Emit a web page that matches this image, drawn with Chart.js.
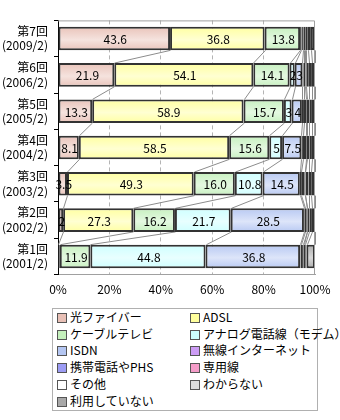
<!DOCTYPE html>
<html>
<head>
<meta charset="utf-8">
<script src="https://cdn.jsdelivr.net/npm/chart.js@4"></script>
<style>
  body { margin: 0; background: #fff; font-family: "Noto Sans CJK JP", sans-serif; }
  #wrap { position: relative; width: 340px; height: 420px; }
  #chart { position: absolute; left: 0; top: 0; }
  #legend {
    position: absolute; left: 52px; top: 308px; width: 264px; height: 101px;
    border: 1px solid #b0b0b0; box-sizing: content-box;
  }
  .item { position: absolute; font-size: 12px; line-height: 14px; color: #000; white-space: nowrap; }
  .item span.box {
    display: inline-block; width: 8px; height: 8px; border: 1px solid #555;
    margin-right: 3px; vertical-align: -1px;
  }
</style>
</head>
<body>
<div id="wrap">
  <canvas id="chart" width="340" height="305"></canvas>
  <div id="legend"></div>
</div>
<script>
// categories, top to bottom
var categories = [
    ['第7回', '(2009/2)'],
    ['第6回', '(2006/2)'],
    ['第5回', '(2005/2)'],
    ['第4回', '(2004/2)'],
    ['第3回', '(2003/2)'],
    ['第2回', '(2002/2)'],
    ['第1回', '(2001/2)']
];

var seriesNames = ['光ファイバー', 'ADSL', 'ケーブルテレビ', 'アナログ電話線（モデム）', 'ISDN',
    '無線インターネット', '携帯電話やPHS', '専用線', 'その他', 'わからない', '利用していない'];

// values (%)
var hikari   = [43.6, 21.9, 13.3, 8.1, 3.5, 2, 0.1];
var adsl     = [36.8, 54.1, 58.9, 58.5, 49.3, 27.3, 0.6];
var catv     = [13.8, 14.1, 15.7, 15.6, 16.0, 16.2, 11.9];
var analog   = [0.5, 2, 3, 5, 10.8, 21.7, 44.8];
var isdn     = [0.6, 3, 4, 7.5, 14.5, 28.5, 36.8];
var wireless = [0.3, 0.5, 0.8, 0.6, 0.5, 0.3, 0.2];
var mobile   = [0.5, 0.7, 0.8, 1.2, 1.4, 0.8, 0.9];
var senyo    = [0.3, 0.3, 0.3, 0.3, 0.3, 0.2, 0.3];
var other    = [0.8, 1.0, 1.0, 1.0, 1.2, 0.8, 0.6];
var unknown  = [1.2, 1.2, 1.0, 1.0, 1.0, 1.0, 0.5];
var notUsing = [1.6, 1.2, 1.2, 1.2, 1.5, 1.2, 3.3];

var xTicks = [0, 20, 40, 60, 80, 100];

var seriesValues = [hikari, adsl, catv, analog, isdn, wireless, mobile, senyo, other, unknown, notUsing];
var seriesColors = ['#e8c0b6', '#ffff9c', '#c4f0bc', '#ccffff', '#b4c6f2',
    '#cc9cf4', '#9c9cf4', '#f49cc8', '#ffffff', '#dcdcdc', '#a8a8a8'];
var labelledSeries = 5; // only the first five series carry value labels

var FONT = '"Noto Sans CJK JP", sans-serif';

function lighten(hex, f) {
    var r = parseInt(hex.substr(1, 2), 16), g = parseInt(hex.substr(3, 2), 16), b = parseInt(hex.substr(5, 2), 16);
    r = Math.round(r + (255 - r) * f); g = Math.round(g + (255 - g) * f); b = Math.round(b + (255 - b) * f);
    return 'rgb(' + r + ',' + g + ',' + b + ')';
}

function gradientFor(color) {
    return function (ctx) {
        var chart = ctx.chart;
        if (!chart.chartArea || !chart.scales.y || ctx.dataIndex === undefined) { return color; }
        var y = chart.scales.y.getPixelForValue(ctx.dataIndex);
        var g = chart.ctx.createLinearGradient(0, y - 13, 0, y + 13);
        g.addColorStop(0, color);
        g.addColorStop(0.55, lighten(color, 0.55));
        g.addColorStop(1, color);
        return g;
    };
}

// connecting lines between bars (Excel series lines)
var seriesLines = {
    id: 'seriesLines',
    beforeDatasetsDraw: function (chart) {
        var c = chart.ctx;
        c.save();
        c.strokeStyle = '#8c8c8c';
        c.lineWidth = 1;
        chart.data.datasets.forEach(function (ds, i) {
            var els = chart.getDatasetMeta(i).data;
            for (var j = 0; j < els.length - 1; j++) {
                var a = els[j], b = els[j + 1];
                c.beginPath();
                c.moveTo(Math.round(a.x) + 0.5, a.y + a.height / 2);
                c.lineTo(Math.round(b.x) + 0.5, b.y - b.height / 2);
                c.stroke();
            }
        });
        c.restore();
    }
};

// value labels in segments
var valueLabels = {
    id: 'valueLabels',
    afterDatasetsDraw: function (chart) {
        var c = chart.ctx;
        c.save();
        c.font = '12px ' + FONT;
        c.fillStyle = '#000';
        c.textAlign = 'center';
        c.textBaseline = 'middle';
        chart.data.datasets.forEach(function (ds, i) {
            if (i >= labelledSeries) { return; }
            chart.getDatasetMeta(i).data.forEach(function (el, j) {
                var v = ds.data[j];
                if (v < 2) { return; }
                var txt = (Number.isInteger(v) && v < 10) ? String(v) : v.toFixed(1);
                c.fillText(txt, (el.x + el.base) / 2 + 1, el.y + 1);
            });
        });
        c.restore();
    }
};

var plotBorder = {
    id: 'plotBorder',
    afterDraw: function (chart) {
        var a = chart.chartArea, c = chart.ctx;
        c.save();
        c.strokeStyle = '#a0a0a0';
        c.lineWidth = 1;
        c.beginPath();
        c.moveTo(a.left, a.top + 0.5);
        c.lineTo(a.right - 0.5, a.top + 0.5);
        c.lineTo(a.right - 0.5, a.bottom);
        c.stroke();
        c.restore();
    }
};

var datasets = seriesNames.map(function (name, i) {
    return {
        label: name,
        data: seriesValues[i],
        backgroundColor: gradientFor(seriesColors[i]),
        borderColor: '#333333',
        borderWidth: 2,
        borderSkipped: false,
        categoryPercentage: 1,
        barPercentage: 0.65
    };
});

var chart = new Chart(document.getElementById('chart'), {
    type: 'bar',
    data: { labels: categories, datasets: datasets },
    plugins: [seriesLines, valueLabels, plotBorder],
    options: {
        indexAxis: 'y',
        responsive: false,
        animation: false,
        layout: { padding: { top: 7, right: 25, left: 0, bottom: 0 } },
        plugins: { legend: { display: false }, tooltip: { enabled: false } },
        scales: {
            x: {
                stacked: true,
                min: 0,
                max: 100,
                afterBuildTicks: function (scale) {
                    scale.ticks = xTicks.map(function (v) { return { value: v }; });
                },
                ticks: {
                    callback: function (v) { return v + '%'; },
                    font: { family: FONT, size: 12 },
                    color: '#000',
                    padding: 8,
                    maxRotation: 0
                },
                grid: {
                    color: function (ctx) { return (ctx.tick && (ctx.tick.value === 0 || ctx.tick.value === 100)) ? 'rgba(0,0,0,0)' : '#b4b4b4'; },
                    drawTicks: false
                },
                border: { color: '#a0a0a0', dash: [4, 3], width: 1 }
            },
            y: {
                stacked: true,
                afterFit: function (scale) { scale.width = 58; },
                ticks: {
                    font: { family: FONT, size: 12 },
                    color: '#000',
                    padding: 6
                },
                grid: {
                    offset: true,
                    drawOnChartArea: false,
                    tickLength: 4,
                    color: '#000'
                },
                border: { color: '#000', width: 1 }
            }
        }
    }
});

// html legend, two columns
var legend = document.getElementById('legend');
seriesNames.forEach(function (name, i) {
    var d = document.createElement('div');
    d.className = 'item';
    d.style.left = (i % 2 === 0 ? 4 : 137) + 'px';
    d.style.top = (1 + Math.floor(i / 2) * 16.7) + 'px';
    var box = document.createElement('span');
    box.className = 'box';
    box.style.background = seriesColors[i];
    d.appendChild(box);
    d.appendChild(document.createTextNode(name));
    legend.appendChild(d);
});
</script>
</body>
</html>
